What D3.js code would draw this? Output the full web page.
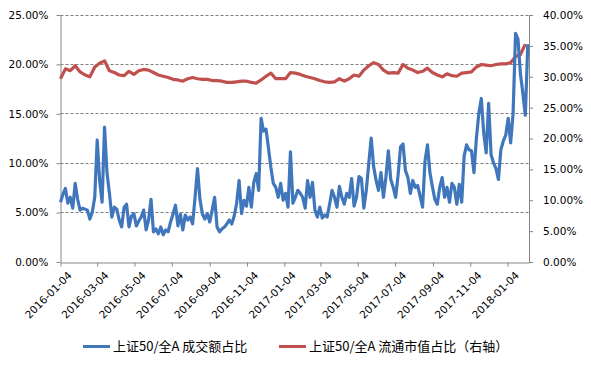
<!DOCTYPE html>
<html>
<head>
<meta charset="utf-8">
<script src="https://cdn.jsdelivr.net/npm/d3@7"></script>
<style>
  body { margin: 0; background: #fff; }
  svg text { font-family: "DejaVu Sans", Verdana, sans-serif; }
</style>
</head>
<body>
<div id="chart"></div>
<script>
// 上证50/全A 成交额占比 (left axis, %), one value every 4 calendar days from 2016-01-04
var turnoverShare = [
  6.0, 6.8, 7.4, 5.9, 6.5, 5.4, 7.9, 6.3, 5.2, 5.4, 5.3, 5.2, 4.3, 5.0, 6.5, 12.3,
  8.2, 6.0, 13.6, 9.0, 6.9, 4.5, 5.5, 5.3, 4.2, 3.5, 5.5, 5.8, 3.5, 4.6, 4.85, 3.6,
  4.1, 4.5, 5.2, 3.2, 4.2, 6.3, 3.0, 3.3, 2.8, 3.5, 2.7, 3.2, 3.0, 4.0, 4.8, 5.7,
  3.6, 4.8, 3.2, 4.7, 4.2, 4.5, 3.8, 6.5, 9.4, 6.3, 4.8, 4.3, 4.85, 4.0, 5.2, 6.5,
  3.5, 3.0, 3.3, 3.5, 3.8, 4.2, 3.8, 4.6, 5.9, 8.2, 4.85, 6.2, 5.6, 7.5, 5.5, 8.0,
  8.9, 7.2, 14.5, 13.2, 13.4, 11.5, 9.5, 7.9, 7.5, 6.5, 7.9, 6.2, 6.9, 5.5, 11.1, 5.9,
  6.5, 7.2, 6.9, 6.5, 5.4, 8.2, 6.5, 8.0, 5.2, 4.5, 5.5, 4.4, 4.7, 4.5, 5.8, 7.2,
  6.5, 5.5, 7.6, 6.5, 5.8, 6.9, 6.5, 8.4, 5.6, 6.5, 8.6, 8.4, 5.4, 7.2, 9.9, 12.5,
  9.6, 8.2, 7.2, 9.0, 6.5, 8.5, 11.2, 8.3, 7.5, 6.5, 8.8, 11.6, 11.9, 9.2, 8.5, 6.9,
  8.2, 7.5, 7.7, 6.6, 5.5, 10.2, 11.8, 9.0, 7.6, 6.3, 5.8, 7.5, 8.5, 6.5, 7.5, 6.0,
  7.9, 7.5, 5.8, 7.8, 6.0, 10.7, 11.8, 11.3, 11.2, 9.0, 12.5, 15.0, 16.5, 13.0, 11.0, 16.0,
  10.8, 10.0, 9.4, 8.3, 11.3, 12.2, 12.8, 14.5, 12.0, 15.0, 23.1, 22.5, 19.0, 17.0, 14.8, 22.0
];

// 上证50/全A 流通市值占比 (right axis, %), one value every 8 calendar days from 2016-01-04
var floatCapShare = [
  29.6, 31.2, 30.9, 31.7, 30.7, 30.2, 29.9, 31.5, 32.1, 32.5, 30.9, 30.6, 30.2, 30.1, 30.8, 30.3,
  30.9, 31.1, 31.0, 30.6, 30.2, 30.0, 29.8, 29.5, 29.4, 29.2, 29.6, 29.8, 29.6, 29.5, 29.5, 29.3,
  29.3, 29.2, 29.0, 29.0, 29.1, 29.2, 29.2, 29.0, 28.9, 29.4, 30.0, 30.5, 29.6, 29.6, 29.6, 30.6,
  30.5, 30.3, 30.0, 29.8, 29.6, 29.3, 29.1, 29.0, 29.1, 29.6, 29.2, 29.6, 30.2, 30.0, 31.0, 31.7,
  32.2, 31.9, 31.0, 30.5, 30.6, 30.5, 31.9, 31.3, 31.0, 30.6, 30.8, 31.3, 30.6, 30.2, 29.9, 30.4,
  30.1, 30.0, 30.5, 30.6, 30.7, 31.5, 31.9, 31.8, 31.7, 31.9, 32.0, 32.0, 32.2, 33.2, 33.5, 35.2
];

var xTickLabels = ["2016-01-04", "2016-03-04", "2016-05-04", "2016-07-04", "2016-09-04", "2016-11-04",
  "2017-01-04", "2017-03-04", "2017-05-04", "2017-07-04", "2017-09-04", "2017-11-04", "2018-01-04"];
var leftTicks = [0, 5, 10, 15, 20, 25];
var rightTicks = [0, 5, 10, 15, 20, 25, 30, 35, 40];
var seriesNames = ["上证50/全A 成交额占比", "上证50/全A 流通市值占比（右轴）"];

var parseDate = d3.timeParse("%Y-%m-%d");
var startDate = parseDate("2016-01-04");
var endDate = parseDate("2018-02-08");

var blueData = turnoverShare.map(function(v, i) { return {date: d3.timeDay.offset(startDate, 4 * i), value: v}; });
var redData = floatCapShare.map(function(v, i) { return {date: d3.timeDay.offset(startDate, 8 * i), value: v}; });

var width = 591, height = 366;
var margin = {top: 15, right: 62, bottom: 105, left: 60.5};

var svg = d3.select("#chart").append("svg")
    .attr("width", width)
    .attr("height", height);

var x = d3.scaleTime()
    .domain([startDate, endDate])
    .range([margin.left, width - margin.right]);

var yL = d3.scaleLinear().domain([0, 25]).range([height - margin.bottom + 0.5, margin.top - 0.5]);
var yR = d3.scaleLinear().domain([0, 40]).range([height - margin.bottom + 0.5, margin.top - 0.5]);

var axisColor = "#868686";

// dashed gridlines from the left axis
svg.append("g")
  .selectAll("line")
  .data(leftTicks.slice(1))
  .enter().append("line")
    .attr("x1", margin.left)
    .attr("x2", width - margin.right)
    .attr("y1", function(d) { return Math.round(yL(d)) + 0.5; })
    .attr("y2", function(d) { return Math.round(yL(d)) + 0.5; })
    .attr("stroke", "#7f7f7f")
    .attr("stroke-width", 1)
    .attr("stroke-dasharray", "3,2");

// left axis
var gLeft = svg.append("g")
    .attr("transform", "translate(" + margin.left + ",0.5)")
    .call(d3.axisLeft(yL).tickValues(leftTicks).tickSize(4).tickSizeOuter(0).tickPadding(8)
      .tickFormat(function(d) { return d.toFixed(2) + "%"; }));

// right axis
var gRight = svg.append("g")
    .attr("transform", "translate(" + (width - margin.right) + ",0.5)")
    .call(d3.axisRight(yR).tickValues(rightTicks).tickSize(4).tickSizeOuter(0).tickPadding(10)
      .tickFormat(function(d) { return d.toFixed(2) + "%"; }));

// bottom axis
var gBottom = svg.append("g")
    .attr("transform", "translate(0," + (Math.round(yL(0)) + 0.5) + ")")
    .call(d3.axisBottom(x).tickValues(xTickLabels.map(parseDate)).tickSize(4).tickSizeOuter(0)
      .tickFormat(d3.timeFormat("%Y-%m-%d")));

gBottom.selectAll("text")
    .attr("text-anchor", "end")
    .attr("transform", "translate(4,6) rotate(-45)")
    .attr("dy", "0.35em")
    .attr("dx", "0");

[gLeft, gRight, gBottom].forEach(function(g) {
  g.selectAll(".domain").attr("stroke", axisColor);
  g.selectAll(".tick line").attr("stroke", axisColor);
  g.selectAll("text").attr("font-size", 10.5).attr("fill", "#000")
    .style("font-family", "'DejaVu Sans', Verdana, sans-serif");
});

// lines
var lineL = d3.line()
    .x(function(d) { return x(d.date); })
    .y(function(d) { return yL(d.value); });
var lineR = d3.line()
    .x(function(d) { return x(d.date); })
    .y(function(d) { return yR(d.value); });

svg.append("path")
    .datum(redData)
    .attr("fill", "none")
    .attr("stroke", "#C0504D")
    .attr("stroke-width", 3.2)
    .attr("stroke-linejoin", "round")
    .attr("d", lineR);

svg.append("path")
    .datum(blueData)
    .attr("fill", "none")
    .attr("stroke", "#4077BC")
    .attr("stroke-width", 3.2)
    .attr("stroke-linejoin", "round")
    .attr("d", lineL);

// legend
var legendColors = ["#4077BC", "#C0504D"];
var legendX = [83, 279];
var legend = svg.append("g");
seriesNames.forEach(function(name, i) {
  legend.append("line")
    .attr("x1", legendX[i]).attr("x2", legendX[i] + 27)
    .attr("y1", 346.5).attr("y2", 346.5)
    .attr("stroke", legendColors[i])
    .attr("stroke-width", 3);
  legend.append("text")
    .attr("x", legendX[i] + 30)
    .attr("y", 351)
    .attr("font-size", 13)
    .style("font-family", "'Noto Sans CJK SC', sans-serif")
    .text(name);
});
</script>
</body>
</html>
